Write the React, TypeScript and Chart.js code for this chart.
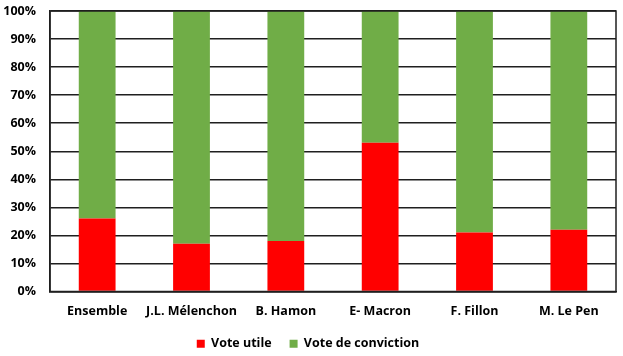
import React, { useEffect, useRef } from "react";
import { Chart, registerables } from "chart.js";

Chart.register(...registerables);

const categories = ["Ensemble", "J.L. Mélenchon", "B. Hamon", "E- Macron", "F. Fillon", "M. Le Pen"];
const voteUtile = [26, 17, 18, 53, 21, 22];
const voteConviction = [74, 83, 82, 47, 79, 78];
const seriesNames = ["Vote utile", "Vote de conviction"];
const yTicks = [0, 10, 20, 30, 40, 50, 60, 70, 80, 90, 100];

const FONT = "'Open Sans', 'DejaVu Sans', sans-serif";
const FS = 12.5;

const borderPlugin = {
  id: "plotBorder",
  afterDatasetsDraw(chart: any) {
    const { ctx, chartArea } = chart;
    ctx.save();
    ctx.strokeStyle = "#1f1f1f";
    ctx.lineWidth = 1.5;
    ctx.strokeRect(chartArea.left, chartArea.top, chartArea.right - chartArea.left, chartArea.bottom - chartArea.top);
    ctx.restore();
  },
};

export default function App() {
  const ref = useRef<HTMLCanvasElement>(null);
  useEffect(() => {
    const chart = new Chart(ref.current!, {
      type: "bar",
      data: {
        labels: categories,
        datasets: [
          { label: seriesNames[0], data: voteUtile, backgroundColor: "#FF0000", barPercentage: 0.39, categoryPercentage: 1 },
          { label: seriesNames[1], data: voteConviction, backgroundColor: "#70AD47", barPercentage: 0.39, categoryPercentage: 1 },
        ],
      },
      options: {
        animation: false,
        responsive: false,
        maintainAspectRatio: false,
        layout: { autoPadding: false, padding: { left: 0, right: 7, top: 11, bottom: -4 } },
        plugins: {
          legend: {
            position: "bottom",
            labels: {
              boxWidth: 8,
              boxHeight: 8,
              color: "#000",
              padding: 18,
              font: { family: FONT, size: FS, weight: "bold" },
            },
          },
          tooltip: { enabled: false },
        },
        scales: {
          x: {
            stacked: true,
            grid: { display: false, drawTicks: false },
            border: { color: "#1f1f1f", width: 1.5 },
            afterFit: (axis: any) => {
              axis.height = 28;
            },
            ticks: {
              color: "#000",
              padding: 12,
              maxRotation: 0,
              autoSkip: false,
              font: { family: FONT, size: FS, weight: "bold" },
            },
          },
          y: {
            stacked: true,
            min: 0,
            max: 100,
            afterBuildTicks: (axis: any) => {
              axis.ticks = yTicks.map((v) => ({ value: v }));
            },
            afterFit: (axis: any) => {
              axis.width = 50;
              axis.paddingTop = 0;
              axis.paddingBottom = 0;
            },
            grid: { color: "#1f1f1f", lineWidth: 1.5, drawTicks: false },
            border: { color: "#1f1f1f", width: 1.5 },
            ticks: {
              color: "#000",
              padding: 14,
              font: { family: FONT, size: FS, weight: "bold" },
              callback: (v: any) => v + "%",
            },
          },
        },
      },
      plugins: [borderPlugin],
    });
    return () => chart.destroy();
  }, []);
  return (
    <div style={{ position: "fixed", left: 0, top: 0, width: 623, height: 356 }}>
      <canvas ref={ref} width={623} height={356} style={{ display: "block" }} />
    </div>
  );
}
